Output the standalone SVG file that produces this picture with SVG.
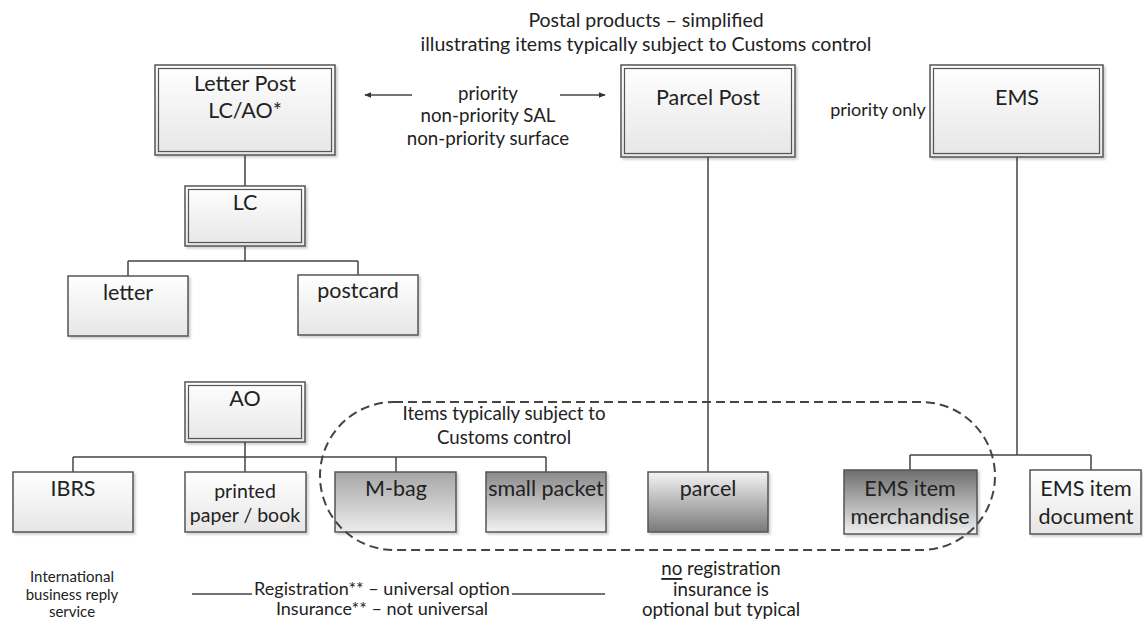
<svg xmlns="http://www.w3.org/2000/svg" width="1143" height="619" viewBox="0 0 1143 619">
<defs>
<linearGradient id="gWhite" x1="0" y1="0" x2="0" y2="1"><stop offset="0" stop-color="#ffffff"/><stop offset="1" stop-color="#e6e6e6"/></linearGradient>
<linearGradient id="gDarkTop" x1="0" y1="0" x2="0" y2="1"><stop offset="0" stop-color="#8a8a8a"/><stop offset="1" stop-color="#f2f2f2"/></linearGradient>
<linearGradient id="gMidTop" x1="0" y1="0" x2="0" y2="1"><stop offset="0" stop-color="#a6a6a6"/><stop offset="1" stop-color="#ececec"/></linearGradient>
<linearGradient id="gDarkBottom" x1="0" y1="0" x2="0" y2="1"><stop offset="0" stop-color="#f4f4f4"/><stop offset="1" stop-color="#7a7a7a"/></linearGradient>
<linearGradient id="gEms" x1="0" y1="0" x2="0" y2="1"><stop offset="0" stop-color="#6e6e6e"/><stop offset="1" stop-color="#f0f0f0"/></linearGradient>
<filter id="sh" x="-5%" y="-5%" width="115%" height="120%"><feDropShadow dx="2" dy="2" stdDeviation="1.2" flood-color="#000" flood-opacity="0.18"/></filter>
<marker id="arr" viewBox="0 0 10 10" refX="9" refY="5" markerWidth="7" markerHeight="7" markerUnits="userSpaceOnUse" orient="auto"><path d="M0,1 L10,5 L0,9 z" fill="#333"/></marker>
</defs>
<style>
text{font-family:Lato,"Liberation Sans",sans-serif;fill:#222;text-anchor:middle;dominant-baseline:central}
.box{stroke:#555;stroke-width:1.5;filter:url(#sh)}
.inner{fill:none;stroke:#555;stroke-width:1.2}
.big{font-size:21.5px}
.mid{font-size:18.7px}
.reg{font-size:18px}
.ttl{font-size:19.5px}
.sm{font-size:15px}
.conn{fill:none;stroke:#444;stroke-width:1.5}
</style>
<rect width="1143" height="619" fill="#fff"/>

<g id="title">
<text class="ttl" x="646" y="19">Postal products – simplified</text>
<text class="ttl" x="646" y="43">illustrating items typically subject to Customs control</text>
</g>

<g id="connectors">
<line class="conn" x1="412" y1="95" x2="365" y2="95" marker-end="url(#arr)"/>
<line class="conn" x1="560" y1="95" x2="605" y2="95" marker-end="url(#arr)"/>
<path class="conn" d="M245,155 V186 M245,246 V261 M128,261 H358 M128,261 V276 M358,261 V275"/>
<path class="conn" d="M245,442 V457 M73,457 H546 M73,457 V472 M245,457 V472 M396,457 V472 M546,457 V472"/>
<path class="conn" d="M708,157 V472"/>
<path class="conn" d="M1017,157 V455 M910,455 H1091 M910,455 V470 M1091,455 V470"/>
<line class="conn" x1="192" y1="594" x2="252" y2="594"/>
<line class="conn" x1="512" y1="594" x2="605" y2="594"/>
</g>

<g id="letterpost">
<rect class="box" x="155" y="65" width="180" height="90" fill="url(#gWhite)"/>
<rect class="inner" x="158.5" y="68.5" width="173" height="83"/>
<text class="big" x="245" y="83">Letter Post</text>
<text class="big" x="245" y="110">LC/AO*</text>
</g>

<g id="modes">
<text class="mid" x="488" y="93">priority</text>
<text class="mid" x="488" y="115">non-priority SAL</text>
<text class="mid" x="488" y="138">non-priority surface</text>
</g>

<g id="parcelpost">
<rect class="box" x="621" y="65" width="174" height="92" fill="url(#gWhite)"/>
<rect class="inner" x="624.5" y="68.5" width="167" height="85"/>
<text class="big" x="708" y="97">Parcel Post</text>
</g>

<g id="priorityonly"><text class="reg" x="878" y="109">priority only</text></g>

<g id="ems">
<rect class="box" x="930" y="65" width="173" height="92" fill="url(#gWhite)"/>
<rect class="inner" x="933.5" y="68.5" width="166" height="85"/>
<text class="big" x="1017" y="97">EMS</text>
</g>

<g id="lc">
<rect class="box" x="185" y="186" width="120" height="60" fill="url(#gWhite)"/>
<rect class="inner" x="188.5" y="189.5" width="113" height="53"/>
<text class="big" x="245" y="202">LC</text>
</g>

<g id="letter">
<rect class="box" x="68" y="276" width="120" height="60" fill="url(#gWhite)"/>
<text class="big" x="128" y="292">letter</text>
</g>

<g id="postcard">
<rect class="box" x="298" y="275" width="120" height="60" fill="url(#gWhite)"/>
<text class="big" x="358" y="290">postcard</text>
</g>

<g id="ao">
<rect class="box" x="185" y="382" width="120" height="60" fill="url(#gWhite)"/>
<rect class="inner" x="188.5" y="385.5" width="113" height="53"/>
<text class="big" x="245" y="398">AO</text>
</g>

<g id="ibrs">
<rect class="box" x="13" y="472" width="120" height="60" fill="url(#gWhite)"/>
<text class="big" x="73" y="488">IBRS</text>
</g>

<g id="printed">
<rect class="box" x="185" y="472" width="121" height="60" fill="url(#gWhite)"/>
<text class="ttl" x="245" y="490">printed</text>
<text class="ttl" x="245" y="514">paper / book</text>
</g>

<g id="mbag">
<rect class="box" x="335" y="472" width="121" height="60" fill="url(#gMidTop)"/>
<text class="big" x="396" y="488">M-bag</text>
</g>

<g id="smallpacket">
<rect class="box" x="486" y="472" width="120" height="60" fill="url(#gDarkTop)"/>
<text class="big" x="546" y="488">small packet</text>
</g>

<g id="parcel">
<rect class="box" x="648" y="472" width="120" height="60" fill="url(#gDarkBottom)"/>
<text class="big" x="708" y="488">parcel</text>
</g>

<g id="emsmerch">
<rect class="box" x="844" y="470" width="133" height="64" fill="url(#gEms)"/>
<text class="big" x="910" y="488">EMS item</text>
<text class="big" x="910" y="516">merchandise</text>
</g>

<g id="emsdoc">
<rect class="box" x="1030" y="470" width="111" height="64" fill="url(#gWhite)"/>
<text class="big" x="1086" y="488">EMS item</text>
<text class="big" x="1086" y="516">document</text>
</g>

<g id="customs">
<rect x="320" y="402" width="675" height="148" rx="74" ry="74" fill="none" stroke="#444" stroke-width="2" stroke-dasharray="9,5"/>
<text class="mid" x="504" y="413">Items typically subject to</text>
<text class="mid" x="504" y="437">Customs control</text>
</g>

<g id="notes">
<text class="sm" x="72" y="576">International</text>
<text class="sm" x="72" y="594">business reply</text>
<text class="sm" x="72" y="611">service</text>
<text class="reg" x="382" y="588">Registration** – universal option</text>
<text class="reg" x="382" y="608">Insurance** – not universal</text>
<text class="mid" x="721" y="568"><tspan text-decoration="underline">no</tspan> registration</text>
<text class="mid" x="721" y="589">insurance is</text>
<text class="mid" x="721" y="609">optional but typical</text>
</g>
</svg>
